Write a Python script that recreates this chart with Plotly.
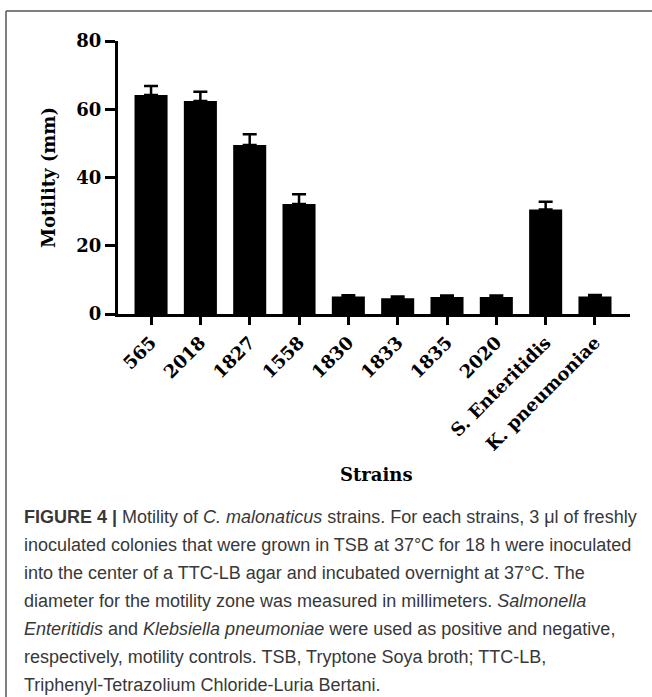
import plotly.graph_objects as go

strains = ["565", "2018", "1827", "1558", "1830", "1833", "1835", "2020",
           "S. Enteritidis", "K. pneumoniae"]
motility_mm = [64.2, 62.4, 49.5, 32.2, 5.1, 4.6, 5.0, 5.0, 30.6, 5.1]
motility_err = [2.6, 2.7, 3.2, 2.9, 0.4, 0.5, 0.4, 0.4, 2.3, 0.5]
y_ticks = [0, 20, 40, 60, 80]

caption_lines = [
    "<b>FIGURE 4 |</b> Motility of <i>C. malonaticus</i> strains. For each strains, 3 μl of freshly",
    "inoculated colonies that were grown in TSB at 37°C for 18 h were inoculated",
    "into the center of a TTC-LB agar and incubated overnight at 37°C. The",
    "diameter for the motility zone was measured in millimeters. <i>Salmonella</i>",
    "<i>Enteritidis</i> and <i>Klebsiella pneumoniae</i> were used as positive and negative,",
    "respectively, motility controls. TSB, Tryptone Soya broth; TTC-LB,",
    "Triphenyl-Tetrazolium Chloride-Luria Bertani.",
]

W, H = 652, 697
L, R, T, B = 118, 22, 41, 383
pw, ph = W - L - R, H - T - B


def px_x(px):
    return (px - L) / pw


def px_y(py):
    return (H - B - py) / ph


serif = dict(family="DejaVu Serif", color="black", weight="bold")

fig = go.Figure()
fig.add_trace(go.Bar(
    x=list(range(len(strains))),
    y=motility_mm,
    width=0.67,
    marker=dict(color="black", line=dict(width=0)),
    error_y=dict(type="data", array=motility_err, arrayminus=[0] * len(strains),
                 symmetric=False, color="black", thickness=2.5, width=7),
    showlegend=False,
    hoverinfo="skip",
))

fig.update_layout(
    width=W, height=H,
    margin=dict(l=L, r=R, t=T, b=B),
    paper_bgcolor="white", plot_bgcolor="white",
    xaxis=dict(
        range=[-0.67, 9.71],
        tickmode="array", tickvals=list(range(len(strains))), ticktext=strains,
        tickangle=-45, tickfont=dict(size=18, **serif),
        showline=True, linecolor="black", linewidth=3,
        ticks="outside", ticklen=8, tickwidth=2.5, tickcolor="black",
        showgrid=False, zeroline=False,
    ),
    yaxis=dict(
        range=[0, 80],
        tickmode="array", tickvals=y_ticks, ticktext=[str(v) for v in y_ticks],
        tickfont=dict(size=18, **serif),
        showline=True, linecolor="black", linewidth=3,
        ticks="outside", ticklen=10, tickwidth=2.5, tickcolor="black",
        showgrid=False, zeroline=False,
    ),
)

annotations = [
    dict(text="Strains", xref="paper", yref="paper", x=px_x(376), y=px_y(474),
         showarrow=False, xanchor="center", yanchor="middle",
         font=dict(size=18, **serif)),
    dict(text="Motility (mm)", xref="paper", yref="paper", x=px_x(48), y=px_y(178),
         showarrow=False, xanchor="center", yanchor="middle", textangle=-90,
         font=dict(size=18, **serif)),
]
for i, line in enumerate(caption_lines):
    annotations.append(dict(
        text=line, xref="paper", yref="paper", x=px_x(22), y=px_y(517 + 28 * i),
        showarrow=False, xanchor="left", yanchor="middle", align="left",
        font=dict(family="Liberation Sans", size=18, color="#383838"),
    ))
fig.update_layout(annotations=annotations)

fig.add_shape(type="line", xref="paper", yref="paper",
              x0=px_x(6), x1=px_x(6), y0=px_y(11), y1=px_y(H + 5),
              line=dict(color="#555555", width=1.5))
fig.add_shape(type="line", xref="paper", yref="paper",
              x0=px_x(6), x1=px_x(W + 5), y0=px_y(11), y1=px_y(11),
              line=dict(color="#555555", width=1.5))

fig.write_html(
    "out.html",
    config={"displayModeBar": False},
    post_script="document.body.style.margin='0px';document.body.style.overflow='hidden';",
)
